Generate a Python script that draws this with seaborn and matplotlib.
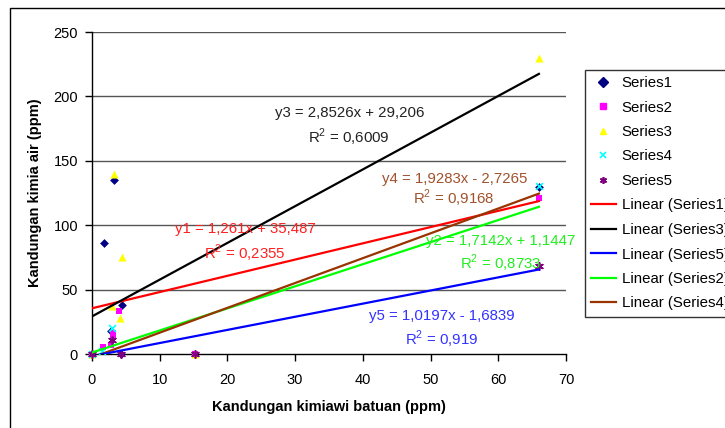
import matplotlib
matplotlib.use("Agg")
import matplotlib.pyplot as plt
from matplotlib.patches import Rectangle
from matplotlib.lines import Line2D
import numpy as np
import pandas as pd
import seaborn as sns

# ---------------- data ----------------
s1_x = [0, 1.7, 3.3, 2.8, 4.4, 4.3, 66]
s1_y = [0, 86, 135, 18, 38, 0, 130]
s2_x = [0, 1.6, 2.8, 3.1, 3.1, 4.0, 15.2, 66]
s2_y = [0, 5.5, 7, 14, 16, 33, 0, 121]
s3_x = [0, 3.3, 4.4, 2.9, 4.1, 15.2, 66]
s3_y = [0, 140, 75, 37, 27.7, 0, 229.5]
s4_x = [0, 1.5, 3.0, 66]
s4_y = [0, 2, 20, 130.5]
s5_x = [0, 3.0, 4.3, 15.2, 66]
s5_y = [0, 11, 0, 0, 68]

series_names = ["Series1", "Series2", "Series3", "Series4", "Series5"]
# trendline equations (slope, intercept, R2) as printed on the chart
trend_slopes = {"Series1": 1.261, "Series2": 1.7142, "Series3": 2.8526, "Series4": 1.9283, "Series5": 1.0197}
trend_intercepts = {"Series1": 35.487, "Series2": 1.1447, "Series3": 29.206, "Series4": -2.7265, "Series5": -1.6839}
trend_labels = {
    "Series1": ("y1 = 1,261x + 35,487", "R$^2$ = 0,2355"),
    "Series2": ("y2 = 1,7142x + 1,1447", "R$^2$ = 0,8733"),
    "Series3": ("y3 = 2,8526x + 29,206", "R$^2$ = 0,6009"),
    "Series4": ("y4 = 1,9283x - 2,7265", "R$^2$ = 0,9168"),
    "Series5": ("y5 = 1,0197x - 1,6839", "R$^2$ = 0,919"),
}
trend_order = ["Series1", "Series3", "Series5", "Series2", "Series4"]
x_ticks = [0, 10, 20, 30, 40, 50, 60, 70]
y_ticks = [0, 50, 100, 150, 200, 250]

# ---------------- style ----------------
plt.rcParams["font.family"] = ["Liberation Sans", "DejaVu Sans"]
plt.rcParams["mathtext.fontset"] = "custom"
plt.rcParams["mathtext.rm"] = "Liberation Sans"

point_style = {
    "Series1": dict(color="#000080", marker="D", s=20),
    "Series2": dict(color="#FF00FF", marker="s", s=24),
    "Series3": dict(color="#FFFF00", marker="^", s=34),
    "Series4": dict(color="#00FFFF", marker="x", s=24),
    "Series5": dict(color="#800080", marker=(6, 2, 0), s=28),
}
line_color = {"Series1": "#FF0000", "Series2": "#00FF00", "Series3": "#000000",
              "Series4": "#993300", "Series5": "#0000FF"}
text_color = {"Series1": "#FF2020", "Series2": "#22EE22", "Series3": "#222222",
              "Series4": "#A0522D", "Series5": "#3333FF"}
# label positions (data coords, centered)
text_pos = {
    "Series3": (38.0, 187.0, 168.5),
    "Series4": (53.5, 136.0, 121.0),
    "Series1": (22.6, 97.0, 78.5),
    "Series2": (60.3, 88.0, 70.0),
    "Series5": (51.7, 29.5, 11.5),
}

fig = plt.figure(figsize=(7.25, 4.28), dpi=100)
ax = fig.add_axes([92 / 725, 1 - 354 / 428, (566 - 92) / 725, (354 - 32) / 428])

xs = {"Series1": s1_x, "Series2": s2_x, "Series3": s3_x, "Series4": s4_x, "Series5": s5_x}
ys = {"Series1": s1_y, "Series2": s2_y, "Series3": s3_y, "Series4": s4_y, "Series5": s5_y}

frames = []
for name in series_names:
    frames.append(pd.DataFrame({"x": xs[name], "y": ys[name], "series": name}))
df = pd.concat(frames, ignore_index=True)

handles = {}
for name in series_names:
    sub = df[df.series == name]
    st = point_style[name]
    lw = 1.2 if name in ("Series4", "Series5") else 0
    sns.scatterplot(data=sub, x="x", y="y", ax=ax, color=st["color"], marker=st["marker"],
                    s=st["s"], linewidth=lw, edgecolor=st["color"], zorder=3, clip_on=False,
                    legend=False)
    handles[name] = Line2D([], [], linestyle="none", marker=st["marker"], color=st["color"],
                           markeredgecolor=st["color"], markersize=5, markeredgewidth=lw if lw else 1)

for name in series_names:
    xmin, xmax = min(xs[name]), max(xs[name])
    lx = np.array([xmin, xmax])
    ly = trend_slopes[name] * lx + trend_intercepts[name]
    tdf = pd.DataFrame({"x": lx, "y": ly})
    sns.lineplot(data=tdf, x="x", y="y", ax=ax, color=line_color[name], linewidth=1.6, zorder=4)
    tx, ty1, ty2 = text_pos[name]
    ax.text(tx, ty1, trend_labels[name][0], color=text_color[name], ha="center", va="center", fontsize=10.8, zorder=5)
    ax.text(tx, ty2, trend_labels[name][1], color=text_color[name], ha="center", va="center", fontsize=10.8, zorder=5)

ax.set_xlim(0, 70)
ax.set_ylim(0, 250)
ax.set_xticks(x_ticks)
ax.set_yticks(y_ticks)
ax.tick_params(axis="both", labelsize=10.5, length=5, width=1, direction="out", color="black")
ax.tick_params(axis="x", pad=9)
ax.tick_params(axis="y", pad=5)
for y in y_ticks[1:]:
    ax.axhline(y, color="#555555", linewidth=1, zorder=1)
for s in ["top", "right"]:
    ax.spines[s].set_visible(False)
for s in ["left", "bottom"]:
    ax.spines[s].set_linewidth(1)
    ax.spines[s].set_color("black")
ax.set_xlabel("Kandungan kimiawi batuan (ppm)", fontsize=10.5, fontweight="bold", labelpad=9)
ax.set_ylabel("Kandungan kimia air (ppm)", fontsize=10.5, fontweight="bold", labelpad=8)

leg_handles = [handles[n] for n in series_names]
leg_labels = list(series_names)
for n in trend_order:
    leg_handles.append(Line2D([], [], color=line_color[n], linewidth=1.6))
    leg_labels.append("Linear (" + n + ")")
leg = fig.legend(leg_handles, leg_labels, loc="upper left", bbox_to_anchor=(585 / 725, 1 - 70 / 428),
                 fontsize=10.8, frameon=True, fancybox=False, edgecolor="black", handlelength=1.65,
                 labelspacing=0.7, borderpad=0.4, handletextpad=0.4, borderaxespad=0)
leg.get_frame().set_linewidth(1)

fig.patches.append(Rectangle((10 / 725, -0.1), 1.2, 0.1 + (1 - 8 / 428), transform=fig.transFigure,
                             fill=False, edgecolor="black", linewidth=1))

fig.savefig("out.png", dpi=100)
